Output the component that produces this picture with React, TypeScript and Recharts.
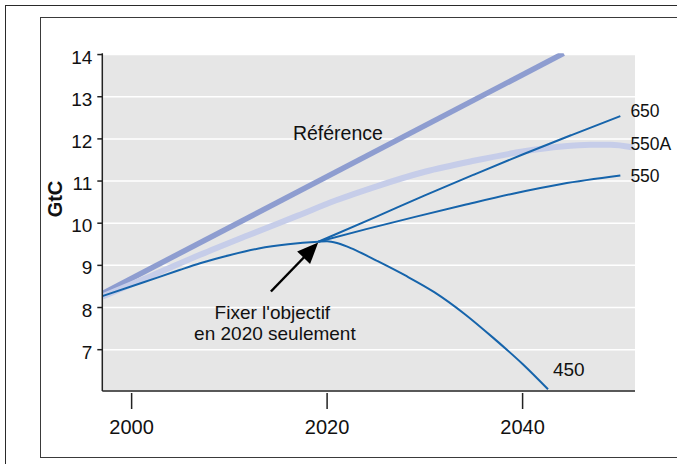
import React from 'react';
import { LineChart, Line, XAxis, YAxis, CartesianGrid, ReferenceDot, ReferenceLine } from 'recharts';

const FONT = '"Liberation Sans", Arial, Helvetica, sans-serif';

const xTicks = [2000, 2020, 2040];
const yTicks = [7, 8, 9, 10, 11, 12, 13, 14];

const referenceYears = [1997, 2044.2];
const referenceValues = [8.33, 14.03];

const s550AYears = [1997, 2002, 2007, 2012, 2017, 2021, 2025, 2030, 2035, 2040, 2044, 2047, 2049, 2051.2];
const s550AValues = [8.26, 8.75, 9.25, 9.72, 10.18, 10.55, 10.87, 11.22, 11.48, 11.7, 11.82, 11.86, 11.86, 11.8];

const s450Years = [1997, 2001, 2004.9, 2007, 2010, 2013, 2016, 2019.1, 2020, 2021, 2022, 2023, 2025, 2028, 2031, 2034, 2037, 2040, 2042.6];
const s450Values = [8.27, 8.58, 8.89, 9.05, 9.24, 9.4, 9.5, 9.56, 9.57, 9.53, 9.45, 9.35, 9.12, 8.76, 8.36, 7.86, 7.28, 6.66, 6.06];

const s650Years = [2019.1, 2025, 2030, 2035, 2040, 2045, 2050];
const s650Values = [9.56, 10.15, 10.66, 11.15, 11.63, 12.09, 12.54];

const s550Years = [2019.1, 2024, 2029, 2034, 2039, 2044, 2050];
const s550Values = [9.56, 9.86, 10.15, 10.43, 10.7, 10.93, 11.13];

const toPoints = (xs: number[], vs: number[]) => xs.map((year, i) => ({ year, v: vs[i] }));

const referenceData = toPoints(referenceYears, referenceValues);
const s550AData = toPoints(s550AYears, s550AValues);
const s450Data = toPoints(s450Years, s450Values);
const s650Data = toPoints(s650Years, s650Values);
const s550Data = toPoints(s550Years, s550Values);

const BLUE = '#1664ab';

const XTick = (props: any) => {
  const { x, y, payload } = props;
  return (
    <g>
      <line x1={x} x2={x} y1={y + 2} y2={y + 18} stroke="#222" strokeWidth={1.5} />
      <text x={x} y={y + 43.3} textAnchor="middle" fontSize={20} fill="#111" fontFamily={FONT}>
        {payload.value}
      </text>
    </g>
  );
};

const YTick = (props: any) => {
  const { x, y, payload } = props;
  return (
    <text x={x} y={y + 9} textAnchor="end" fontSize={19} fill="#111" fontFamily={FONT}>
      {payload.value}
    </text>
  );
};

const GtcLabel = () => (
  <text
    x={62}
    y={199}
    transform="rotate(-90 62 199)"
    textAnchor="middle"
    fontSize={20}
    fontWeight="bold"
    fill="#111"
    fontFamily={FONT}
  >
    GtC
  </text>
);

const textShape = (label: string, anchor: 'start' | 'middle' | 'end', size: number) => (p: any) => (
  <text x={p.cx} y={p.cy} textAnchor={anchor} fontSize={size} fill="#111" fontFamily={FONT}>
    {label}
  </text>
);

const ArrowShape = (p: any) => {
  const { x1, y1, x2, y2 } = p;
  const dx = x2 - x1;
  const dy = y2 - y1;
  const len = Math.sqrt(dx * dx + dy * dy);
  const ux = dx / len;
  const uy = dy / len;
  const headLen = 21;
  const half = 9;
  const bx = x2 - ux * headLen;
  const by = y2 - uy * headLen;
  const px = -uy;
  const py = ux;
  return (
    <g>
      <line x1={x1} y1={y1} x2={bx + ux * 2} y2={by + uy * 2} stroke="#000" strokeWidth={2.5} />
      <polygon
        points={`${x2},${y2} ${bx + px * half},${by + py * half} ${bx - px * half},${by - py * half}`}
        fill="#000"
      />
    </g>
  );
};

export default function App() {
  return (
    <div
      style={{
        position: 'absolute',
        left: 0,
        top: 0,
        width: 677,
        height: 464,
        overflow: 'hidden',
        background: '#fff',
      }}
    >
      <div
        style={{
          position: 'absolute',
          left: 5.25,
          top: 4.75,
          width: 720,
          height: 520,
          border: '1.5px solid #2a2a2a',
          boxSizing: 'border-box',
        }}
      />
      <div
        style={{
          position: 'absolute',
          left: 39.75,
          top: 17.25,
          width: 720,
          height: 441,
          border: '1.5px solid #3a3a3a',
          boxSizing: 'border-box',
        }}
      />
      <div style={{ position: 'absolute', left: 0, top: 0 }}>
        <LineChart
          width={677}
          height={464}
          margin={{ top: 53.3, right: 42, bottom: 23, left: 52.3 }}
        >
          <CartesianGrid
            vertical={false}
            horizontal
            fill="#e6e6e6"
            fillOpacity={1}
            stroke="#ffffff"
            strokeWidth={1.5}
          />
          <XAxis
            type="number"
            dataKey="year"
            domain={[1997, 2051.5]}
            ticks={xTicks}
            interval={0}
            allowDataOverflow
            height={50}
            tickLine={false}
            tickSize={0}
            tickMargin={0}
            axisLine={{ stroke: '#222', strokeWidth: 1.5 }}
            tick={<XTick />}
          />
          <YAxis
            type="number"
            domain={[6.02, 14.03]}
            ticks={yTicks}
            interval={0}
            allowDataOverflow
            width={50}
            tickSize={5}
            tickMargin={5}
            tickLine={{ stroke: '#222', strokeWidth: 1.5 }}
            axisLine={{ stroke: '#222', strokeWidth: 1.5 }}
            tick={<YTick />}
            label={{ content: <GtcLabel /> }}
          />
          <Line
            data={referenceData}
            dataKey="v"
            type="linear"
            stroke="#8e9dd0"
            strokeWidth={5.5}
            dot={false}
            activeDot={false}
            isAnimationActive={false}
          />
          <Line
            data={s550AData}
            dataKey="v"
            type="monotone"
            stroke="#c6cde9"
            strokeWidth={6}
            dot={false}
            activeDot={false}
            isAnimationActive={false}
          />
          <Line
            data={s650Data}
            dataKey="v"
            type="monotone"
            stroke={BLUE}
            strokeWidth={2}
            dot={false}
            activeDot={false}
            isAnimationActive={false}
          />
          <Line
            data={s550Data}
            dataKey="v"
            type="monotone"
            stroke={BLUE}
            strokeWidth={2}
            dot={false}
            activeDot={false}
            isAnimationActive={false}
          />
          <Line
            data={s450Data}
            dataKey="v"
            type="monotone"
            stroke={BLUE}
            strokeWidth={2}
            dot={false}
            activeDot={false}
            isAnimationActive={false}
          />
          <ReferenceLine
            segment={[{ x: 2014.25, y: 8.38 }, { x: 2019.09, y: 9.54 }]}
            ifOverflow="visible"
            shape={ArrowShape}
          />
          <ReferenceDot x={2021.1} y={11.97} r={0} ifOverflow="visible" shape={textShape('Référence', 'middle', 19.5)} />
          <ReferenceDot x={2014.4} y={7.73} r={0} ifOverflow="visible" shape={textShape("Fixer l'objectif", 'middle', 19)} />
          <ReferenceDot x={2014.66} y={7.23} r={0} ifOverflow="visible" shape={textShape('en 2020 seulement', 'middle', 19)} />
          <ReferenceDot x={2051.03} y={12.52} r={0} ifOverflow="visible" shape={textShape('650', 'start', 17.5)} />
          <ReferenceDot x={2051.03} y={11.73} r={0} ifOverflow="visible" shape={textShape('550A', 'start', 17.5)} />
          <ReferenceDot x={2051.03} y={10.98} r={0} ifOverflow="visible" shape={textShape('550', 'start', 17.5)} />
          <ReferenceDot x={2043.1} y={6.38} r={0} ifOverflow="visible" shape={textShape('450', 'start', 19)} />
        </LineChart>
      </div>
    </div>
  );
}
